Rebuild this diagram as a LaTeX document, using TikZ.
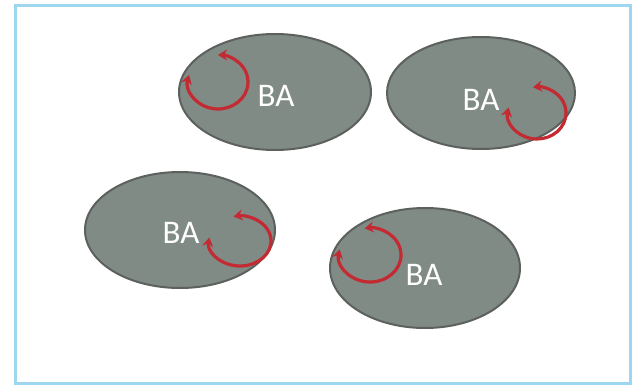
\documentclass[tikz,border=0pt]{standalone}
\usepackage{fontspec}
\setmainfont{Carlito}
\usetikzlibrary{shapes.geometric,arrows.meta}
\definecolor{framecol}{HTML}{9FD6EF}
\definecolor{cellfill}{HTML}{808B86}
\definecolor{celledge}{HTML}{5C615E}
\definecolor{looprd}{HTML}{C42A31}
\tikzset{
  cell/.style={ellipse, draw=celledge, line width=2pt, fill=cellfill, inner sep=0pt},
  tag/.style={text=white, font=\fontsize{33}{33}\selectfont, inner sep=0pt},
  loop/.style={draw=looprd, line width=3.2pt, {Stealth[length=9pt,width=11pt]}-{Stealth[length=9pt,width=11pt]}}
}
\begin{document}
\begin{tikzpicture}[x=1pt,y=-1pt]
  \useasboundingbox (0,0) rectangle (639,387);
  \fill[white] (0,0) rectangle (639,387);
  % outer frame
  \draw[framecol, line width=3pt] (15,6) rectangle (630,383);

  % four cells
  \node[cell, minimum width=192pt, minimum height=116pt] (c1) at (275,92) {};
  \node[cell, minimum width=188pt, minimum height=112pt] (c2) at (481,93) {};
  \node[cell, minimum width=190pt, minimum height=116pt] (c3) at (180,230) {};
  \node[cell, minimum width=190pt, minimum height=120pt] (c4) at (425,268) {};

  % labels
  \node[tag] (t1) at (276,96) {BA};
  \node[tag] (t2) at (481,100) {BA};
  \node[tag] (t3) at (181,233) {BA};
  \node[tag] (t4) at (424,275) {BA};

  % loop centres
  \coordinate (l1) at (218,82);
  \coordinate (l2) at (537,113);
  \coordinate (l3) at (240,241);
  \coordinate (l4) at (370,255);

  % circular arrows
  \draw[loop] ([shift={(165:30pt and 27pt)}]l1) arc[start angle=165, end angle=450, x radius=30pt, y radius=27pt];
  \draw[loop] ([shift={(168:29pt and 26pt)}]l2) arc[start angle=168, end angle=458, x radius=29pt, y radius=26pt];
  \draw[loop] ([shift={(172:31pt and 25pt)}]l3) arc[start angle=172, end angle=462, x radius=31pt, y radius=25pt];
  \draw[loop] ([shift={(168:31pt and 27pt)}]l4) arc[start angle=168, end angle=460, x radius=31pt, y radius=27pt];
\end{tikzpicture}
\end{document}
